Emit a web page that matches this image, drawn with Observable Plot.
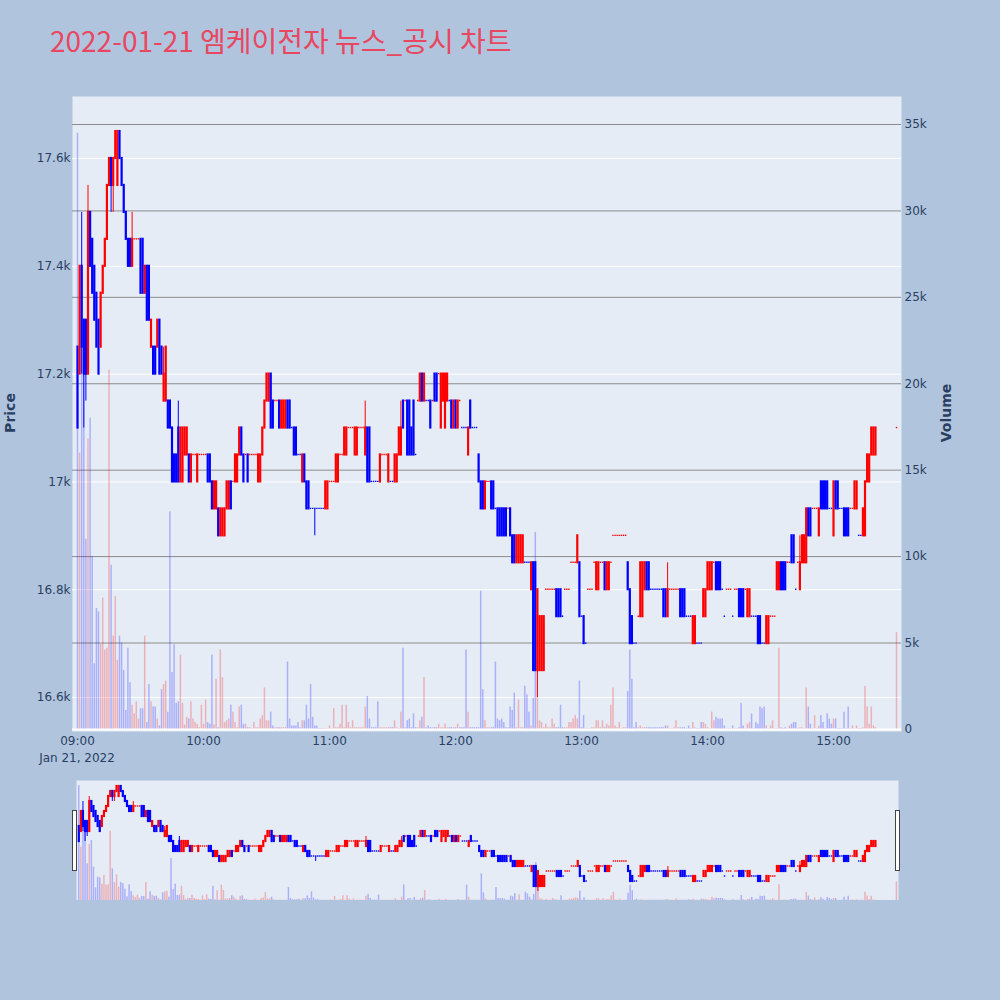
<!DOCTYPE html>
<html>
<head>
<meta charset="utf-8">
<script src="https://cdn.jsdelivr.net/npm/d3@7"></script>
<script src="https://cdn.jsdelivr.net/npm/@observablehq/plot@0.6"></script>
<style>
  body { margin: 0; background: #B0C4DE; }
  #wrap { position: relative; width: 1000px; height: 1000px; overflow: hidden; font-family: "DejaVu Sans", "Noto Sans CJK KR", sans-serif; color: #2a3f5f; }
  #wrap svg { position: absolute; left: 0; }
  #title { position: absolute; left: 50px; top: 26px; font-family: "Noto Sans CJK KR", sans-serif; font-size: 28px; line-height: 1; color: #e8475f; white-space: nowrap; }
  .ytitle { position: absolute; font-size: 14px; font-weight: bold; transform: translate(-50%, -50%) rotate(-90deg); white-space: nowrap; }
  #date { position: absolute; left: 77px; top: 751px; transform: translateX(-50%); font-size: 12px; white-space: nowrap; }
  .handle { position: absolute; top: 810px; width: 3px; height: 59px; background: #fff; border: 1px solid #444; }
</style>
</head>
<body>
<div id="wrap">
  <div id="title">2022-01-21 엠케이전자 뉴스_공시 차트</div>
  <div class="ytitle" style="left:10px; top:413px;">Price</div>
  <div class="ytitle" style="left:946px; top:413px;">Volume</div>
  <div id="date">Jan 21, 2022</div>
</div>
<script>
// minutes after 09:00 (continuous session 09:00-15:20, closing print at 15:30)
const minuteOffsets = d3.range(0, 381).concat([390]);

const opens = [
  17250,17200,17400,17300,17300,17200,17500,17450,17400,17350,
  17300,17250,17350,17400,17450,17550,17600,17550,17600,17550,
  17650,17600,17550,17500,17450,17450,17400,17450,17450,17450,
  17450,17450,17350,17400,17400,17250,17250,17250,17250,17300,
  17250,17150,17150,17150,17150,17100,17050,17050,17100,17000,
  17000,17050,17050,17050,17000,17050,17050,17000,17050,17050,
  17050,17050,17050,17050,17000,16950,16950,16950,16900,16900,
  16900,16950,16950,17000,17000,17000,17000,17050,17100,17050,
  17050,17050,17050,17050,17050,17050,17000,17000,17050,17100,
  17150,17150,17200,17150,17150,17150,17150,17100,17100,17100,
  17150,17150,17100,17100,17100,17050,17050,17000,17050,17000,
  17000,16950,16950,16950,16950,16950,16950,16950,16950,16950,
  17000,17000,17000,17000,17000,17050,17050,17050,17050,17100,
  17100,17100,17050,17050,17100,17100,17100,17050,17100,17100,
  17000,17000,17000,17000,17000,17050,17050,17050,17000,17000,
  17000,17000,17000,17050,17050,17150,17150,17150,17150,17100,
  17150,17050,17150,17150,17200,17150,17150,17150,17150,17150,
  17200,17200,17200,17100,17150,17100,17150,17150,17150,17100,
  17150,17100,17150,17100,17100,17100,17050,17150,17100,17100,
  17100,17050,17000,17000,16950,17000,17000,17000,17000,16950,
  16950,16950,16950,16950,16950,16950,16950,16900,16900,16850,
  16850,16850,16850,16850,16850,16850,16800,16850,16850,16650,
  16650,16650,16650,16800,16800,16800,16800,16800,16800,16800,
  16800,16750,16800,16800,16800,16850,16850,16850,16850,16850,
  16750,16750,16700,16800,16800,16800,16850,16800,16800,16850,
  16850,16850,16800,16800,16850,16900,16900,16900,16900,16900,
  16900,16900,16850,16800,16750,16700,16700,16750,16750,16750,
  16800,16850,16850,16800,16800,16800,16800,16800,16800,16800,
  16800,16750,16800,16800,16800,16800,16800,16800,16800,16800,
  16750,16750,16750,16700,16700,16700,16700,16700,16750,16750,
  16800,16800,16800,16850,16850,16850,16850,16800,16750,16800,
  16800,16800,16750,16800,16800,16800,16800,16800,16800,16750,
  16750,16750,16750,16750,16750,16750,16700,16700,16700,16700,
  16750,16750,16750,16800,16800,16850,16850,16850,16850,16850,
  16900,16900,16800,16850,16800,16850,16850,16850,16950,16950,
  16950,16950,16950,16900,17000,17000,17000,17000,16950,16950,
  16900,17000,17000,16950,16950,16950,16950,16950,16950,16950,
  16950,16950,16900,16900,16900,16900,17000,17000,17050,17050,
  17050,17100
];

const highs = [
  17250,17400,17500,17300,17300,17550,17500,17450,17400,17350,
  17300,17350,17400,17450,17550,17600,17600,17600,17650,17650,
  17650,17600,17550,17500,17450,17450,17500,17450,17450,17450,
  17450,17450,17400,17400,17400,17300,17250,17250,17300,17300,
  17250,17250,17250,17150,17150,17100,17050,17050,17150,17100,
  17100,17100,17100,17050,17050,17050,17050,17050,17050,17050,
  17050,17050,17050,17050,17000,17000,17000,16950,16950,16950,
  16950,17000,17000,17000,17000,17050,17050,17100,17100,17050,
  17050,17050,17050,17050,17050,17050,17050,17050,17100,17150,
  17200,17200,17200,17150,17150,17150,17150,17150,17150,17150,
  17150,17150,17100,17100,17100,17050,17050,17050,17050,17000,
  17000,16950,16950,16950,16950,16950,16950,16950,17000,17000,
  17000,17000,17000,17050,17050,17050,17050,17100,17100,17100,
  17100,17100,17100,17100,17100,17100,17100,17150,17100,17100,
  17000,17000,17000,17000,17050,17050,17050,17050,17050,17000,
  17000,17050,17050,17100,17150,17150,17150,17150,17150,17100,
  17150,17050,17150,17200,17200,17200,17150,17150,17150,17150,
  17200,17200,17200,17200,17200,17200,17200,17150,17150,17150,
  17150,17150,17150,17100,17100,17100,17100,17150,17100,17100,
  17100,17050,17000,17000,17000,17000,17000,17000,17000,16950,
  16950,16950,16950,16950,16950,16950,16950,16900,16900,16900,
  16900,16900,16900,16850,16850,16850,16850,16850,16850,16800,
  16750,16750,16750,16800,16800,16800,16800,16800,16800,16800,
  16800,16750,16800,16800,16800,16850,16850,16850,16900,16850,
  16750,16750,16700,16800,16800,16800,16850,16850,16850,16850,
  16850,16850,16850,16850,16850,16900,16900,16900,16900,16900,
  16900,16900,16850,16800,16750,16700,16700,16750,16850,16850,
  16850,16850,16850,16800,16800,16800,16800,16800,16800,16800,
  16800,16850,16800,16800,16800,16800,16800,16800,16800,16800,
  16750,16750,16750,16750,16750,16700,16700,16700,16800,16800,
  16850,16850,16850,16850,16850,16850,16850,16800,16750,16800,
  16800,16800,16750,16800,16800,16800,16800,16800,16800,16800,
  16800,16750,16750,16750,16750,16750,16700,16700,16750,16750,
  16750,16750,16750,16850,16850,16850,16850,16850,16850,16850,
  16900,16900,16800,16850,16900,16900,16900,16950,16950,16950,
  16950,16950,16950,16950,17000,17000,17000,17000,16950,16950,
  17000,17000,17000,16950,16950,16950,16950,16950,16950,16950,
  17000,17000,16900,16900,16950,17000,17050,17050,17100,17100,
  17100,17100
];

const lows = [
  17100,17200,17200,17100,17150,17200,17400,17350,17300,17250,
  17200,17250,17350,17400,17450,17550,17500,17500,17600,17550,
  17600,17550,17500,17450,17400,17400,17400,17450,17450,17450,
  17350,17350,17350,17300,17300,17250,17200,17200,17250,17200,
  17200,17150,17150,17100,17100,17000,17000,17000,17000,17000,
  17000,17050,17050,17000,17000,17050,17050,17000,17050,17050,
  17050,17050,17000,17000,16950,16950,16950,16900,16900,16900,
  16900,16950,16950,16950,17000,17000,17000,17050,17050,17000,
  17050,17000,17050,17050,17050,17050,17000,17000,17050,17100,
  17150,17150,17100,17100,17150,17150,17100,17100,17100,17100,
  17100,17100,17100,17050,17050,17050,17050,17000,17000,16950,
  16950,16950,16950,16900,16950,16950,16950,16950,16950,16950,
  17000,17000,17000,17000,17000,17050,17050,17050,17050,17100,
  17100,17100,17050,17050,17100,17100,17100,17050,17000,17000,
  17000,17000,17000,17000,17000,17050,17050,17050,17000,17000,
  17000,17000,17000,17050,17050,17100,17150,17050,17050,17050,
  17050,17050,17150,17150,17150,17150,17150,17150,17100,17150,
  17150,17150,17200,17100,17150,17100,17150,17150,17100,17100,
  17100,17100,17150,17100,17100,17100,17050,17100,17100,17100,
  17100,17000,16950,16950,16950,17000,17000,16950,16950,16950,
  16900,16900,16900,16900,16900,16950,16900,16850,16850,16850,
  16850,16850,16850,16850,16850,16850,16800,16650,16650,16600,
  16650,16650,16650,16800,16800,16800,16800,16800,16750,16750,
  16750,16750,16800,16800,16800,16850,16850,16850,16850,16750,
  16750,16700,16700,16800,16800,16800,16850,16800,16800,16850,
  16850,16800,16800,16800,16850,16900,16900,16900,16900,16900,
  16900,16900,16800,16700,16700,16700,16700,16750,16750,16750,
  16800,16800,16800,16800,16800,16800,16800,16800,16800,16750,
  16750,16750,16800,16800,16800,16800,16800,16750,16750,16750,
  16750,16750,16750,16700,16700,16700,16700,16700,16750,16750,
  16800,16800,16800,16850,16800,16800,16800,16800,16750,16800,
  16800,16800,16750,16800,16800,16750,16750,16750,16800,16750,
  16750,16750,16750,16750,16700,16700,16700,16700,16700,16700,
  16750,16750,16750,16800,16800,16800,16800,16800,16850,16850,
  16850,16850,16800,16850,16800,16850,16850,16850,16900,16900,
  16950,16950,16950,16900,16950,16950,16950,16950,16950,16950,
  16900,16950,16950,16950,16950,16900,16900,16900,16950,16950,
  16950,16950,16900,16900,16900,16900,17000,17000,17050,17050,
  17050,17100
];

const closes = [
  17100,17400,17250,17200,17200,17500,17400,17350,17300,17250,
  17200,17350,17400,17450,17550,17600,17550,17600,17650,17650,
  17600,17550,17500,17450,17400,17400,17450,17450,17450,17450,
  17350,17350,17400,17300,17300,17300,17200,17200,17300,17200,
  17200,17200,17250,17100,17100,17000,17000,17000,17000,17100,
  17100,17100,17100,17000,17050,17050,17050,17050,17050,17050,
  17050,17050,17000,17000,16950,17000,17000,16900,16950,16950,
  16950,17000,17000,16950,17000,17050,17050,17100,17050,17000,
  17050,17000,17050,17050,17050,17050,17050,17050,17100,17150,
  17200,17200,17100,17100,17150,17150,17100,17150,17150,17150,
  17100,17100,17100,17050,17050,17050,17050,17050,17000,16950,
  16950,16950,16950,16950,16950,16950,16950,16950,17000,17000,
  17000,17000,17000,17050,17050,17050,17050,17100,17100,17100,
  17100,17100,17100,17100,17100,17100,17100,17100,17000,17000,
  17000,17000,17000,17000,17050,17050,17050,17050,17050,17000,
  17000,17050,17050,17100,17100,17100,17150,17050,17050,17050,
  17050,17050,17150,17200,17150,17200,17150,17150,17100,17150,
  17150,17150,17200,17200,17200,17200,17200,17150,17100,17150,
  17100,17150,17150,17100,17100,17100,17100,17100,17100,17100,
  17100,17000,16950,16950,17000,17000,17000,16950,16950,16950,
  16900,16900,16900,16900,16900,16950,16900,16850,16850,16900,
  16900,16900,16900,16850,16850,16850,16850,16650,16650,16800,
  16750,16750,16750,16800,16800,16800,16800,16800,16750,16750,
  16750,16750,16800,16800,16800,16850,16850,16850,16900,16750,
  16750,16700,16700,16800,16800,16800,16850,16850,16850,16850,
  16850,16800,16850,16850,16850,16900,16900,16900,16900,16900,
  16900,16900,16800,16700,16700,16700,16700,16750,16850,16850,
  16850,16800,16800,16800,16800,16800,16800,16800,16800,16750,
  16750,16800,16800,16800,16800,16800,16800,16750,16750,16750,
  16750,16750,16750,16750,16750,16700,16700,16700,16800,16800,
  16850,16850,16850,16850,16800,16800,16800,16800,16750,16800,
  16800,16800,16750,16800,16800,16750,16750,16750,16800,16800,
  16800,16750,16750,16750,16700,16700,16700,16700,16750,16750,
  16750,16750,16750,16850,16850,16800,16800,16800,16850,16850,
  16850,16850,16800,16850,16850,16900,16900,16950,16900,16900,
  16950,16950,16950,16950,16950,16950,16950,16950,16950,16950,
  17000,16950,16950,16950,16950,16900,16900,16900,16950,16950,
  17000,17000,16900,16900,16950,17000,17050,17050,17100,17100,
  17100,17100
];

const volumes = [
  34500,16000,22000,21000,11000,16800,18000,10000,3800,7000,
  6800,4900,7600,4600,4700,20800,9500,5400,7700,4000,
  5400,5000,3400,1100,4700,2700,1400,900,1600,600,
  1200,1200,5400,400,2600,1600,1300,1300,600,200,
  2300,2600,2800,1000,12600,3300,4900,1500,1600,4300,
  1500,250,700,600,1600,600,400,300,100,1400,
  300,1700,400,300,4300,250,2900,100,4600,3000,
  400,500,600,1400,1000,400,100,1300,1400,300,
  300,100,100,50,400,100,100,600,800,2400,
  500,500,1000,200,100,100,100,100,100,100,
  3900,600,200,200,200,400,100,500,500,1400,
  600,2600,700,200,200,50,50,50,50,50,
  200,50,1200,100,100,300,1400,100,1400,400,
  100,500,100,100,100,100,100,1300,1900,600,
  100,100,100,1600,100,100,100,100,100,100,
  100,500,100,50,1000,4700,100,500,600,100,
  900,100,100,500,700,3000,100,200,100,100,
  100,100,300,100,100,300,100,100,100,100,
  100,300,100,100,100,4600,1000,100,100,100,
  100,100,8000,2300,500,100,100,100,100,3900,
  600,500,600,400,100,100,1300,1100,2100,100,
  1700,100,100,2500,2000,1000,200,1800,11400,4000,
  500,400,100,300,100,100,600,300,100,100,
  1400,100,100,100,400,400,600,800,600,2800,
  100,800,50,50,50,100,100,500,500,100,
  500,100,300,200,1400,2400,200,100,400,50,
  100,100,2200,4600,2900,100,400,100,200,100,
  100,100,100,100,100,100,100,100,100,100,
  200,200,50,50,100,500,100,100,100,100,
  50,200,50,400,100,50,50,400,400,300,
  100,50,1000,500,700,600,600,600,200,50,
  50,50,200,50,50,100,1500,200,50,300,
  400,900,50,400,300,1300,1200,1300,200,50,
  200,500,50,50,4700,100,50,100,50,200,
  300,400,400,50,100,100,50,2400,1300,300,
  50,800,50,200,800,400,50,900,600,300,
  600,600,50,50,50,1000,50,1300,50,200,
  50,200,50,50,100,2500,1300,300,1300,200,
  100,5600
];

const priceTicks = [16600, 16800, 17000, 17200, 17400, 17600];
const volumeTicks = [0, 5000, 10000, 15000, 20000, 25000, 30000, 35000];
const hourTicks = [9, 10, 11, 12, 13, 14, 15].map(h => new Date(2022, 0, 21, h, 0));
const xRange = [new Date(2022, 0, 21, 8, 57, 37), new Date(2022, 0, 21, 15, 32, 23)];
const sliderXRange = [new Date(2022, 0, 21, 8, 58, 55), new Date(2022, 0, 21, 15, 31, 0)];
const priceRange = [16537, 17715];
const volumeRange = [-120, 36620];
const sliderPriceRange = [16510, 17710];
const sliderVolumeRange = [0, 36000];

// plotly style direction: up if close > open, a flat candle follows the previous close
let lastClose = null, lastColor = "blue";
const candles = minuteOffsets.map((m, i) => {
  const o = opens[i], c = closes[i];
  let color;
  if (c > o) color = "red";
  else if (c < o) color = "blue";
  else if (lastClose == null) color = lastColor;
  else color = c > lastClose ? "red" : c < lastClose ? "blue" : lastColor;
  lastClose = c;
  lastColor = color;
  return {time: new Date(2022, 0, 21, 9, m), open: o, high: highs[i], low: lows[i], close: c, volume: volumes[i], color};
});
const bodies = candles.filter(d => d.open !== d.close);
const flats = candles.filter(d => d.open === d.close);

const wrap = document.getElementById("wrap");
const font = "'DejaVu Sans', 'Noto Sans CJK KR', sans-serif";
const main = {
  width: 1000, height: 770,
  marginLeft: 72, marginRight: 99, marginTop: 96, marginBottom: 39,
  style: {background: "transparent", color: "#2a3f5f", fontSize: "12px", fontFamily: font}
};
const slider = {
  width: 1000, height: 120,
  marginLeft: 76, marginRight: 102, marginTop: 0, marginBottom: 0,
  style: {background: "transparent", fontFamily: font}
};

function place(svg, top) {
  svg.style.top = top + "px";
  wrap.appendChild(svg);
}

function candleMarks() {
  return [
    Plot.ruleX(candles, {x: "time", y1: "low", y2: "high", stroke: "color", strokeWidth: 1}),
    Plot.ruleX(bodies, {x: "time", y1: "open", y2: "close", stroke: "color", strokeWidth: 2.2, strokeLinecap: "square"}),
    Plot.ruleX(flats, {x: "time", y1: "open", y2: "close", stroke: "color", strokeWidth: 1.4, strokeLinecap: "square"})
  ];
}

// price axis, background and white grid
place(Plot.plot({
  ...main,
  x: {type: "time", domain: xRange, ticks: hourTicks, tickFormat: d3.timeFormat("%H:%M"), tickSize: 0, tickPadding: 5, label: null},
  y: {domain: priceRange, ticks: priceTicks, tickFormat: d => d / 1000 + "k", tickSize: 0, tickPadding: 2, label: null},
  marks: [
    Plot.frame({fill: "#E5ECF6", stroke: "none"}),
    Plot.ruleY(priceTicks, {stroke: "white", strokeWidth: 1})
  ]
}), 0);

// volume on the right axis
place(Plot.plot({
  ...main,
  x: {type: "time", domain: xRange, axis: null},
  y: {domain: volumeRange, axis: "right", ticks: volumeTicks, tickFormat: d => d ? d / 1000 + "k" : "0", tickSize: 0, tickPadding: 3, label: null},
  marks: [
    Plot.ruleY(volumeTicks.filter(d => d > 0), {stroke: "#8c8c8c", strokeWidth: 1}),
    Plot.ruleX(candles, {x: "time", y1: 0, y2: "volume", stroke: "color", strokeOpacity: 0.25, strokeWidth: 1.5}),
    Plot.ruleY([0], {stroke: "white", strokeWidth: 2})
  ]
}), 0);

// candles on top
place(Plot.plot({
  ...main,
  x: {type: "time", domain: xRange, axis: null},
  y: {domain: priceRange, axis: null},
  marks: candleMarks()
}), 0);

// range slider
place(Plot.plot({
  ...slider,
  x: {type: "time", domain: sliderXRange, axis: null},
  y: {domain: sliderVolumeRange, axis: null},
  marks: [
    Plot.frame({fill: "#E5ECF6", stroke: "none"}),
    Plot.ruleX(candles, {x: "time", y1: 0, y2: "volume", stroke: "color", strokeOpacity: 0.25, strokeWidth: 1.5})
  ]
}), 780);

place(Plot.plot({
  ...slider,
  x: {type: "time", domain: sliderXRange, axis: null},
  y: {domain: sliderPriceRange, axis: null},
  marks: candleMarks()
}), 780);

// slider handles
[72, 895].forEach(left => {
  const h = document.createElement("div");
  h.className = "handle";
  h.style.left = left + "px";
  wrap.appendChild(h);
});
</script>
</body>
</html>
